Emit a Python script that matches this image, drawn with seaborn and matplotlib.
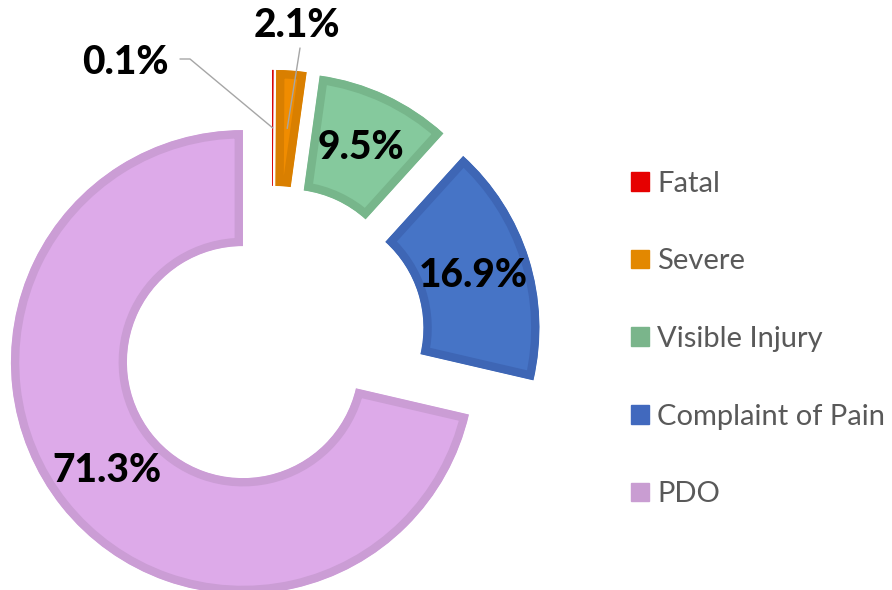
import numpy as np
import matplotlib.pyplot as plt
import seaborn as sns
from matplotlib.patches import Patch

# Data
categories = ["Fatal", "Severe", "Visible Injury", "Complaint of Pain", "PDO"]
shares = [0.1, 2.1, 9.5, 16.9, 71.3]
labels = ["0.1%", "2.1%", "9.5%", "16.9%", "71.3%"]

face_colors = ["#E81010", "#F08C00", "#85C99D", "#4674C6", "#DDAAE9"]
edge_colors = ["#D40000", "#D97F00", "#77B68B", "#3E66B5", "#CB9DD5"]
legend_colors = ["#E60000", "#E38800", "#7AB58B", "#4169BE", "#C99DD2"]

sns.set_theme(style="white")
plt.rcParams["font.family"] = ["Lato", "DejaVu Sans"]

W, H = 892, 590
cx, cy, R = 272, 339, 232  # donut centre / outer radius in pixels

fig = plt.figure(figsize=(W / 100, H / 100), dpi=100)
ax = fig.add_axes([0, 0, 1, 1])

explode = [0.16] * len(shares)

wedges, texts, autotexts = ax.pie(
    shares, colors=face_colors, startangle=90, counterclock=False,
    explode=explode, radius=1.0, autopct="%1.1f%%", pctdistance=0.75,
    wedgeprops=dict(width=0.5, linewidth=12),
    textprops=dict(fontsize=28, fontweight="black", color="black"),
)
# darker inner border: stroke clipped to the wedge itself
# (pie turns clipping off, so switch it back on)
for w, ec in zip(wedges, edge_colors):
    w.set_edgecolor(ec)
    w.set_clip_path(w)
    w.set_clip_on(True)

for t, lab in zip(autotexts, labels):
    t.set_text(lab)

ax.set_xlim(-cx / R, (W - cx) / R)
ax.set_ylim(-(H - cy) / R, cy / R)
ax.set_aspect("equal")
ax.axis("off")


def px(x, y):
    return (x - cx) / R, (cy - y) / R


def wedge_point(i, r):
    # point on the exploded wedge i along its mid angle
    start = 90 - 360 * sum(shares[:i]) / 100
    mid = np.deg2rad(start - 180 * shares[i] / 100)
    d = explode[i] + r
    return d * np.cos(mid), d * np.sin(mid)


# Fatal label, outside with leader
autotexts[0].set_position(px(125, 62))
ex, ey = wedge_point(0, 0.75)
x1, y1 = px(180, 59)
x2, y2 = px(190, 59)
ax.plot([x1, x2, ex], [y1, y2, ey], color="#A6A6A6", lw=1.0)

# Severe label, above with leader
autotexts[1].set_position(px(297, 25))
ex, ey = wedge_point(1, 0.75)
x1, y1 = px(300, 48)
ax.plot([x1, ex], [y1, ey], color="#A6A6A6", lw=1.0)

handles = [Patch(facecolor=c, edgecolor=c) for c in legend_colors]
leg = ax.legend(
    handles, categories, loc="center left",
    bbox_to_anchor=(631 / W, (H - cy) / H), bbox_transform=fig.transFigure,
    frameon=False, fontsize=21, labelspacing=1.77, handlelength=0.6,
    handleheight=0.6, handletextpad=0.3, borderpad=0, borderaxespad=0,
)
for t in leg.get_texts():
    t.set_color("#595959")

fig.savefig("out.png", dpi=100)
